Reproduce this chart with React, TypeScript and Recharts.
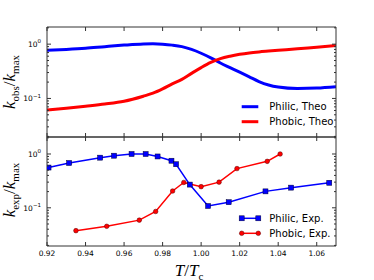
import React from 'react';
import { LineChart, Line, XAxis, YAxis, Legend, Label } from 'recharts';

// ---- data ----
const theoT = [0.92, 0.93, 0.94, 0.95, 0.96, 0.97, 0.975, 0.98, 0.985, 0.99, 0.995, 1.0, 1.005, 1.01, 1.015, 1.02, 1.025, 1.03, 1.035, 1.04, 1.05, 1.06, 1.07];
const philicTheo = [0.77, 0.8, 0.84, 0.9, 0.96, 1.01, 1.02, 1.0, 0.96, 0.9, 0.8, 0.68, 0.56, 0.45, 0.37, 0.305, 0.25, 0.205, 0.177, 0.162, 0.152, 0.155, 0.164];
const phobicTheo = [0.061, 0.066, 0.072, 0.079, 0.089, 0.11, 0.125, 0.15, 0.185, 0.225, 0.29, 0.37, 0.46, 0.54, 0.6, 0.65, 0.69, 0.72, 0.745, 0.77, 0.82, 0.88, 0.94];

const expPhilicT = [0.9208, 0.9315, 0.9476, 0.9548, 0.9639, 0.9712, 0.9774, 0.9846, 0.987, 0.9941, 1.0036, 1.0143, 1.0334, 1.0467, 1.0665];
const expPhilicK = [0.56, 0.68, 0.855, 0.93, 1.0, 1.0, 0.9, 0.75, 0.645, 0.27, 0.108, 0.127, 0.202, 0.237, 0.292];
const expPhobicT = [0.935, 0.951, 0.9679, 0.9764, 0.9852, 0.991, 1.0, 1.0093, 1.0186, 1.0343, 1.041];
const expPhobicK = [0.0376, 0.0453, 0.059, 0.0855, 0.205, 0.296, 0.247, 0.3, 0.536, 0.73, 1.0];

const xTicks = [0.92, 0.94, 0.96, 0.98, 1.0, 1.02, 1.04, 1.06];
const xTickLabels = ['0.92', '0.94', '0.96', '0.98', '1.00', '1.02', '1.04', '1.06'];
const yTicks = [0.02, 0.03, 0.04, 0.05, 0.06, 0.07, 0.08, 0.09, 0.1, 0.2, 0.3, 0.4, 0.5, 0.6, 0.7, 0.8, 0.9, 1, 2];
const yMajorTicks = [0.1, 1];
const yMajorExponents = ['\u22121', '0'];

const legendTheo = ['Philic, Theo', 'Phobic, Theo'];
const legendExp = ['Philic, Exp.', 'Phobic, Exp.'];

const theoData = theoT.map((T, i) => ({ T, philic: philicTheo[i], phobic: phobicTheo[i] }));
const philicExpData = expPhilicT.map((T, i) => ({ T, k: expPhilicK[i] }));
const phobicExpData = expPhobicT.map((T, i) => ({ T, k: expPhobicK[i] }));

const BLUE = '#0000ff';
const RED = '#ff0000';
const FRAME = '#333';
const X_DOMAIN = [0.92, 1.07];
const Y_DOMAIN = [0.0195, 2.07];
const SANS = 'DejaVu Sans, sans-serif';
const SERIF = 'Liberation Serif, DejaVu Serif, serif';

const isMajor = (v: number) => yMajorTicks.some((m) => Math.abs(m - v) < 1e-9);

const makeXTick = (side: 'bottom' | 'top', showLabel: boolean) => (props: any) => {
  const { x, y, payload } = props;
  const dir = side === 'bottom' ? -1 : 1;
  const idx = xTicks.findIndex((t) => Math.abs(t - payload.value) < 1e-9);
  return (
    <g>
      <line x1={x} y1={y} x2={x} y2={y + dir * 4} stroke={FRAME} strokeWidth={1} />
      {showLabel && idx >= 0 && (
        <text x={x} y={y + 9.5} textAnchor="middle" fontSize={7.5} fontFamily={SANS} fill="#000">
          {xTickLabels[idx]}
        </text>
      )}
    </g>
  );
};

const makeYTick = (side: 'left' | 'right') => (props: any) => {
  const { x, y, payload } = props;
  const v = payload.value;
  const major = isMajor(v);
  const len = major ? 4 : 2;
  const dir = side === 'left' ? 1 : -1;
  const mi = yMajorTicks.findIndex((m) => Math.abs(m - v) < 1e-9);
  return (
    <g>
      <line x1={x} y1={y} x2={x + dir * len} y2={y} stroke={FRAME} strokeWidth={1} />
      {side === 'left' && major && (
        <text x={x - 6} y={y + 2.7} textAnchor="end" fontSize={7.5} fontFamily={SANS} fill="#000">
          10
          <tspan dy={-3.5} fontSize={5.5}>{yMajorExponents[mi]}</tspan>
        </text>
      )}
    </g>
  );
};

const SquareDot = (props: any) => {
  const { cx, cy } = props;
  if (cx == null || cy == null) return <g />;
  return <rect x={cx - 2.5} y={cy - 2.5} width={5} height={5} fill={BLUE} stroke="#000033" strokeWidth={0.5} />;
};
const CircleDot = (props: any) => {
  const { cx, cy } = props;
  if (cx == null || cy == null) return <g />;
  return <circle cx={cx} cy={cy} r={2.3} fill={RED} stroke="#550000" strokeWidth={0.5} />;
};

const YTitle = ({ cy, sub }: { cy: number; sub: string }) => (
  <text transform={`translate(15,${cy}) rotate(-90)`} textAnchor="middle" fontFamily={SERIF} fontSize={17} fill="#000">
    <tspan fontStyle="italic">k</tspan>
    <tspan dy={4} fontSize={11}>{sub}</tspan>
    <tspan dy={-4}>/</tspan>
    <tspan fontStyle="italic">k</tspan>
    <tspan dy={4} fontSize={11}>max</tspan>
  </text>
);

const TheoLegend = () => (
  <svg width={120} height={32} style={{ overflow: 'visible', display: 'block' }}>
    <line x1={5.7} y1={8.7} x2={22.3} y2={8.7} stroke={BLUE} strokeWidth={3} />
    <text x={33.3} y={12.3} fontSize={10} fontFamily={SANS} fill="#000">{legendTheo[0]}</text>
    <line x1={5.7} y1={23.7} x2={22.3} y2={23.7} stroke={RED} strokeWidth={3} />
    <text x={33.3} y={27.3} fontSize={10} fontFamily={SANS} fill="#000">{legendTheo[1]}</text>
  </svg>
);

const ExpLegend = () => (
  <svg width={120} height={32} style={{ overflow: 'visible', display: 'block' }}>
    <line x1={5.7} y1={8.3} x2={22.3} y2={8.3} stroke={BLUE} strokeWidth={1.5} />
    <rect x={3.2} y={5.8} width={5} height={5} fill={BLUE} stroke="#000033" strokeWidth={0.5} />
    <rect x={19.8} y={5.8} width={5} height={5} fill={BLUE} stroke="#000033" strokeWidth={0.5} />
    <text x={33.3} y={11.9} fontSize={10} fontFamily={SANS} fill="#000">{legendExp[0]}</text>
    <line x1={5.7} y1={23.3} x2={22.3} y2={23.3} stroke={RED} strokeWidth={1.5} />
    <circle cx={5.7} cy={23.3} r={2.3} fill={RED} stroke="#550000" strokeWidth={0.5} />
    <circle cx={22.3} cy={23.3} r={2.3} fill={RED} stroke="#550000" strokeWidth={0.5} />
    <text x={33.3} y={26.9} fontSize={10} fontFamily={SANS} fill="#000">{legendExp[1]}</text>
  </svg>
);

const commonAxes = (showXLabels: boolean, xTitle: boolean, yTitleCy: number, ySub: string) => [
  <XAxis
    key="xb"
    dataKey="T"
    type="number"
    domain={X_DOMAIN}
    allowDataOverflow
    ticks={xTicks}
    interval={0}
    height={1}
    tickSize={0}
    tickMargin={0}
    tickLine={false}
    axisLine={{ stroke: FRAME, strokeWidth: 1 }}
    tick={makeXTick('bottom', showXLabels)}
  >
    {xTitle && (
      <Label
        content={() => (
          <text x={189} y={276} textAnchor="middle" fontFamily={SERIF} fontSize={17} fill="#000">
            <tspan fontStyle="italic">T</tspan>
            <tspan>/</tspan>
            <tspan fontStyle="italic">T</tspan>
            <tspan dy={3.5} fontSize={11}>c</tspan>
          </text>
        )}
      />
    )}
  </XAxis>,
  <XAxis
    key="xt"
    xAxisId="t"
    orientation="top"
    dataKey="T"
    type="number"
    domain={X_DOMAIN}
    allowDataOverflow
    ticks={xTicks}
    interval={0}
    height={1}
    tickSize={0}
    tickMargin={0}
    tickLine={false}
    axisLine={{ stroke: FRAME, strokeWidth: 1 }}
    tick={makeXTick('top', false)}
  />,
  <YAxis
    key="yl"
    type="number"
    scale="log"
    domain={Y_DOMAIN}
    allowDataOverflow
    ticks={yTicks}
    interval={0}
    width={40}
    tickSize={0}
    tickMargin={0}
    tickLine={false}
    axisLine={{ stroke: FRAME, strokeWidth: 1 }}
    tick={makeYTick('left')}
  >
    <Label content={() => <YTitle cy={yTitleCy} sub={ySub} />} />
  </YAxis>,
  <YAxis
    key="yr"
    yAxisId="r"
    orientation="right"
    type="number"
    scale="log"
    domain={Y_DOMAIN}
    allowDataOverflow
    ticks={yTicks}
    interval={0}
    width={1}
    tickSize={0}
    tickMargin={0}
    tickLine={false}
    axisLine={{ stroke: FRAME, strokeWidth: 1 }}
    tick={makeYTick('right')}
  />,
];

export default function App() {
  return (
    <div style={{ position: 'fixed', left: 0, top: 0, width: 374, height: 280, background: '#fff' }}>
      <div style={{ position: 'absolute', left: 0, top: 0 }}>
        <LineChart width={374} height={280} data={theoData} margin={{ top: 26, right: 37, bottom: 142, left: 7 }}>
          {commonAxes(false, false, 82, 'obs')}
          <Line type="monotone" dataKey="philic" stroke={BLUE} strokeWidth={3} dot={false} isAnimationActive={false} />
          <Line type="monotone" dataKey="phobic" stroke={RED} strokeWidth={3} dot={false} isAnimationActive={false} />
          <Legend
            layout="horizontal"
            verticalAlign="middle"
            align="center"
            wrapperStyle={{ position: 'absolute', left: 236, top: 98, width: 120, height: 32 }}
            content={() => <TheoLegend />}
          />
        </LineChart>
      </div>
      <div style={{ position: 'absolute', left: 0, top: 0 }}>
        <LineChart width={374} height={280} margin={{ top: 136, right: 37, bottom: 33, left: 7 }}>
          {commonAxes(true, true, 190, 'exp')}
          <Line data={philicExpData} type="linear" dataKey="k" stroke={BLUE} strokeWidth={1.5} dot={<SquareDot />} isAnimationActive={false} />
          <Line data={phobicExpData} type="linear" dataKey="k" stroke={RED} strokeWidth={1.5} dot={<CircleDot />} isAnimationActive={false} />
          <Legend
            layout="horizontal"
            verticalAlign="middle"
            align="center"
            wrapperStyle={{ position: 'absolute', left: 236, top: 210, width: 120, height: 32 }}
            content={() => <ExpLegend />}
          />
        </LineChart>
      </div>
    </div>
  );
}
